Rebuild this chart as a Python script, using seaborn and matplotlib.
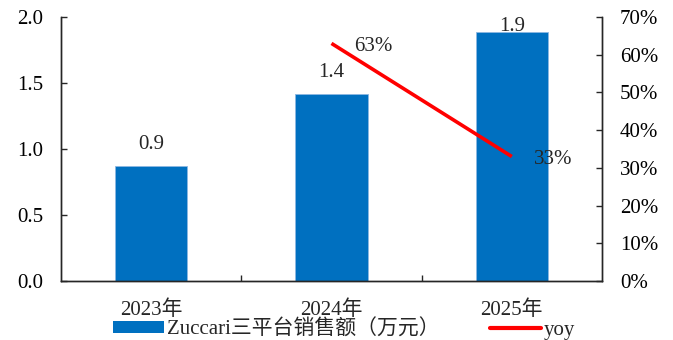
import matplotlib
matplotlib.use("Agg")
import matplotlib.pyplot as plt
from matplotlib.patches import Patch
from matplotlib.lines import Line2D
from matplotlib.ticker import PercentFormatter, MultipleLocator
import seaborn as sns
import pandas as pd

# Sales (10k yuan) and year-over-year growth
years = ["2023年", "2024年", "2025年"]
sales = [0.87, 1.42, 1.89]
yoy_years = ["2024年", "2025年"]
yoy = [63, 33]

bar_label = "Zuccari三平台销售额（万元）"
line_label = "yoy"

sns.set_theme(style="white")
plt.rcParams["font.family"] = ["Liberation Serif", "Noto Sans CJK SC"]
plt.rcParams["axes.unicode_minus"] = False

FS = 15
bar_color = "#0070C0"
line_color = "#FF0000"

df = pd.DataFrame({"year": years, "sales": sales})

fig = plt.figure(figsize=(6.73, 3.40), dpi=100)
ax = fig.add_axes([0.0906, 0.1735, 0.8039, 0.7765])

sns.barplot(data=df, x="year", y="sales", color=bar_color, width=0.4,
            saturation=1, ax=ax, edgecolor="#8DB8E2", linewidth=0.6)
ax.set_ylim(0, 2.0)
ax.set_xlim(-0.5, 2.5)
ax.yaxis.set_major_locator(MultipleLocator(0.5))
ax.yaxis.set_major_formatter(lambda v, p: f"{v:.1f}")
ax.set_xlabel("")
ax.set_ylabel("")

# Value labels above bars, kept inside the plot area
top_limit = 2.0 - 0.106
for i, v in enumerate(sales):
    ax.text(i, min(v + 0.129, top_limit), f"{v:.1f}", ha="center",
            va="baseline", fontsize=FS)

ax2 = ax.twinx()
pos = {y: i for i, y in enumerate(years)}
ydf = pd.DataFrame({"x": [pos[y] for y in yoy_years], "yoy": yoy})
sns.lineplot(data=ydf, x="x", y="yoy", color=line_color, linewidth=2.6,
             ax=ax2, solid_capstyle="butt")
ax2.set_ylim(0, 70)
ax2.set_xlim(-0.5, 2.5)
ax2.yaxis.set_major_locator(MultipleLocator(10))
ax2.yaxis.set_major_formatter(PercentFormatter(decimals=0))
ax2.set_ylabel("")
ax2.set_xlabel("")

for x, v in zip(ydf["x"], yoy):
    ax2.annotate(f"{v}%", (x, v), xytext=(16, -2), textcoords="offset points",
                 ha="left", va="center", fontsize=FS)

# Spines and ticks
for a in (ax, ax2):
    a.spines["top"].set_visible(False)
    for s in ("left", "right", "bottom"):
        a.spines[s].set_color("#262626")
        a.spines[s].set_linewidth(1.0)
ax.tick_params(axis="y", direction="in", length=4.5, width=1, labelsize=FS,
               pad=13, left=True, colors="#262626", labelcolor="black")
ax2.tick_params(axis="y", direction="in", length=4.5, width=1, labelsize=FS,
                pad=13, right=True, colors="#262626", labelcolor="black")
ax.set_xticks([0.5, 1.5], minor=True)
ax.tick_params(axis="x", which="major", length=0, labelsize=FS, pad=14)
ax.tick_params(axis="x", which="minor", direction="in", length=4.5, width=1,
               bottom=True, color="#262626")
ax2.tick_params(axis="x", length=0)

handles = [Patch(facecolor=bar_color, edgecolor="none"),
           Line2D([0], [0], color=line_color, linewidth=3)]
fig.legend(handles, [bar_label, line_label], loc="center left",
           bbox_to_anchor=(113 / 673, 1 - 329.5 / 340), ncol=2, frameon=False,
           fontsize=FS, handlelength=2.45, handleheight=0.52,
           handletextpad=0.15, columnspacing=2.4, borderaxespad=0,
           borderpad=0)

fig.savefig("out.png", dpi=100)
